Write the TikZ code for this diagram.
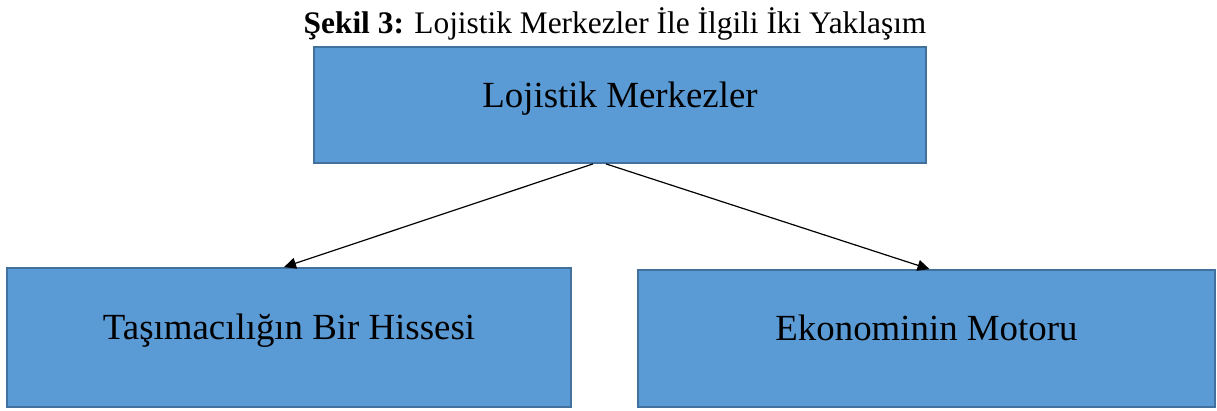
\documentclass[tikz,border=0pt]{standalone}
\usepackage{fontspec}
\setmainfont{Liberation Serif}
\usetikzlibrary{arrows.meta, positioning}
\definecolor{boxfill}{HTML}{5B9BD5}
\definecolor{boxline}{HTML}{41719C}

\begin{document}
\begin{tikzpicture}[
  x=1bp, y=-1bp,
  approach/.style={draw=boxline, line width=1.8bp, fill=boxfill, inner sep=0pt,
    align=center, font=\fontsize{37}{42}\selectfont, text height=26bp, text depth=21.5bp},
  link/.style={-{Triangle[length=12bp, width=11bp]}, line width=1.2bp, color=black}
]
\useasboundingbox (0,0) rectangle (1217,410);

% Title
\node[font=\fontsize{31.5}{36}\selectfont, anchor=base, inner sep=0pt] (title) at (615,33) {\textbf{Şekil 3:} Lojistik Merkezler İle İlgili İki Yaklaşım};

% Boxes
\node[approach, minimum width=612bp, minimum height=116bp] (LM) at (620,105) {Lojistik Merkezler};
\node[approach, minimum width=564bp, minimum height=139bp] (TH) at (289,337.5) {Taşımacılığın Bir Hissesi};
\node[approach, minimum width=577bp, minimum height=137bp] (EM) at (926.5,338.5) {Ekonominin Motoru};

% Arrows
\draw[link] ([xshift=-27bp]LM.south) -- ([xshift=-5bp]TH.north);
\draw[link] ([xshift=-14bp]LM.south) -- ([xshift=3bp]EM.north);

\end{tikzpicture}
\end{document}
